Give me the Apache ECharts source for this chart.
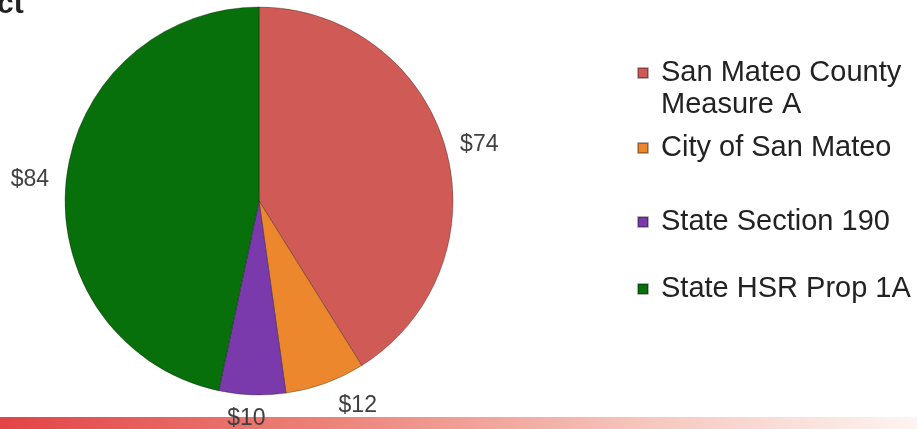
<!DOCTYPE html>
<html>
<head>
<meta charset="utf-8">
<script src="https://cdn.jsdelivr.net/npm/echarts@6/dist/echarts.min.js"></script>
<style>
  html, body { margin: 0; padding: 0; background: #fff; }
  #chart { width: 917px; height: 429px; }
</style>
</head>
<body>
<div id="chart"></div>
<script>
// data
const categories = ['San Mateo County Measure A', 'City of San Mateo', 'State Section 190', 'State HSR Prop 1A'];
const amounts = [74, 12, 10, 84];
const sliceColors = ['#CF5A56', '#EC872D', '#7B3AAB', '#07700B'];
// how far each value label sits outside the rim
const labelGaps = [10, 24, 24, 12];
// legend rows (first one wraps onto a second line)
const legendTops = [25, 132, 206, 273];

const chart = echarts.init(document.getElementById('chart'));
const fontFamily = '"Liberation Sans", Arial, sans-serif';

const legends = categories.map((name, i) => ({
  data: [name],
  orient: 'vertical',
  left: 637,
  top: legendTops[i],
  padding: 0,
  itemWidth: 10,
  itemHeight: 10,
  icon: 'rect',
  selectedMode: false,
  // blank first line keeps the marker level with "San Mateo County"
  formatter: (n) => n === 'San Mateo County Measure A' ? '\nSan Mateo County\nMeasure A' : n,
  textStyle: {
    fontFamily: fontFamily,
    fontSize: 29,
    color: '#222',
    lineHeight: 32,
    padding: [0, 0, 0, 8]
  }
}));

const option = {
  animation: false,
  title: {
    text: 'ct',
    left: -3,
    top: -10,
    padding: 0,
    textStyle: { fontFamily: fontFamily, fontSize: 30, fontWeight: 'bold', color: '#222' }
  },
  legend: legends,
  graphic: [
    {
      type: 'rect',
      left: 0,
      top: 417,
      z: 0,
      shape: { width: 917, height: 12 },
      style: {
        fill: new echarts.graphic.LinearGradient(0, 0, 1, 0, [
          { offset: 0, color: '#E24447' },
          { offset: 0.35, color: '#EC8178' },
          { offset: 0.7, color: '#F6C6BC' },
          { offset: 1, color: '#FDF4F2' }
        ])
      }
    }
  ],
  series: [
    {
      type: 'pie',
      center: [259, 201],
      radius: 194,
      startAngle: 90,
      clockwise: true,
      avoidLabelOverlap: false,
      z: 2,
      itemStyle: {
        borderColor: 'rgba(0,0,0,0.3)',
        borderWidth: 1
      },
      label: {
        show: true,
        position: 'outside',
        formatter: '${c}',
        fontFamily: fontFamily,
        fontSize: 23,
        color: '#404040'
      },
      labelLine: { show: false, length: 15, length2: 0 },
      // the small slice at the bottom gets a centred label, as on the slide
      labelLayout: (params) => params.dataIndex === 2 ? { align: 'center' } : {},
      emphasis: { disabled: true },
      data: categories.map((name, i) => ({
        name: name,
        value: amounts[i],
        itemStyle: { color: sliceColors[i] },
        labelLine: { show: false, length: labelGaps[i], length2: 0 }
      }))
    }
  ]
};

chart.setOption(option);
</script>
</body>
</html>
